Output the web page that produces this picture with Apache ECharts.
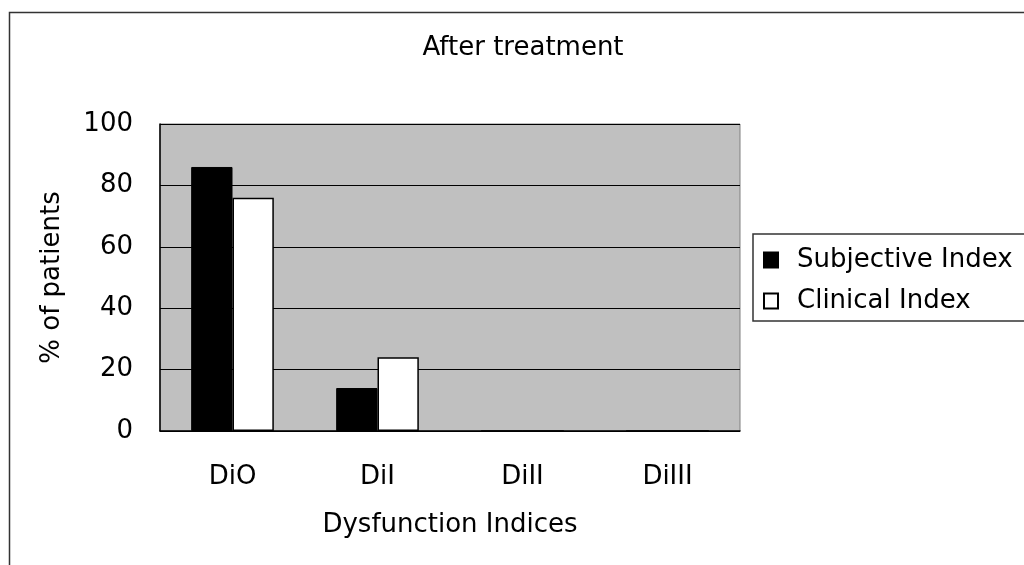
<!DOCTYPE html>
<html>
<head>
<meta charset="utf-8">
<script src="https://cdn.jsdelivr.net/npm/echarts@6/dist/echarts.min.js"></script>
<style>
  html, body { margin: 0; padding: 0; background: #fff; }
  #chart { width: 1024px; height: 565px; }
</style>
</head>
<body>
<div id="chart"></div>
<script>
// data
const categories = ["DiO", "DiI", "DiII", "DiIII"];
const subjectiveIndex = [86, 14, 0, 0];
const clinicalIndex = [76, 24, 0, 0];
const yTicks = [0, 20, 40, 60, 80, 100];

const font = "'DejaVu Sans', sans-serif";
const fs = 26;
const chart = echarts.init(document.getElementById("chart"));

chart.setOption({
  animation: false,
  backgroundColor: "#fff",
  textStyle: { fontFamily: font, color: "#000" },
  graphic: [
    {
      // outer frame of the chart area
      type: "rect",
      left: 7,
      top: 10,
      shape: { width: 1040, height: 580 },
      style: { fill: "none", stroke: "#333", lineWidth: 1.5 },
      silent: true,
    },
  ],
  title: {
    text: "After treatment",
    left: 523,
    top: 35,
    padding: 0,
    textAlign: "center",
    textStyle: { fontFamily: font, fontSize: fs, fontWeight: "normal", color: "#000", lineHeight: 26 },
  },
  legend: {
    orient: "vertical",
    left: 753,
    top: 234,
    padding: [13, 30, 7, 10],
    itemGap: 15,
    itemWidth: 14,
    itemHeight: 15,
    icon: "rect",
    borderColor: "#333",
    borderWidth: 1.5,
    borderRadius: 0,
    textStyle: { fontFamily: font, fontSize: fs, color: "#000", lineHeight: 26, padding: [0, 0, 0, 14] },
    data: ["Subjective Index", "Clinical Index"],
  },
  grid: {
    left: 160,
    right: 284,
    top: 124,
    bottom: 134,
    show: true,
    backgroundColor: "#c0c0c0",
    borderColor: "#808080",
    borderWidth: 1,
  },
  xAxis: {
    type: "category",
    data: categories,
    name: "Dysfunction Indices",
    nameLocation: "middle",
    nameGap: 81,
    nameTextStyle: { fontFamily: font, fontSize: fs, color: "#000" },
    axisLine: { lineStyle: { color: "#000", width: 1.5 } },
    axisTick: { inside: true, length: 10, lineStyle: { color: "#000" } },
    axisLabel: { margin: 33, fontFamily: font, fontSize: fs, color: "#000" },
  },
  yAxis: {
    type: "value",
    min: yTicks[0],
    max: yTicks[yTicks.length - 1],
    interval: yTicks[1] - yTicks[0],
    name: "% of patients",
    nameLocation: "middle",
    nameGap: 95,
    nameTextStyle: { fontFamily: font, fontSize: fs, color: "#000" },
    axisLine: { show: true, lineStyle: { color: "#000", width: 1.5 } },
    axisTick: { show: true, inside: true, length: 12, lineStyle: { color: "#000" } },
    axisLabel: { margin: 27, fontFamily: font, fontSize: fs, color: "#000" },
    splitLine: { lineStyle: { color: "#000", width: 1 } },
  },
  series: [
    {
      name: "Subjective Index",
      type: "bar",
      data: subjectiveIndex,
      barGap: "0%",
      barCategoryGap: "43%",
      itemStyle: { color: "#000", borderColor: "#000", borderWidth: 1 },
    },
    {
      name: "Clinical Index",
      type: "bar",
      data: clinicalIndex,
      barGap: "0%",
      barCategoryGap: "43%",
      itemStyle: { color: "#fff", borderColor: "#000", borderWidth: 1.5 },
    },
  ],
});
</script>
</body>
</html>
